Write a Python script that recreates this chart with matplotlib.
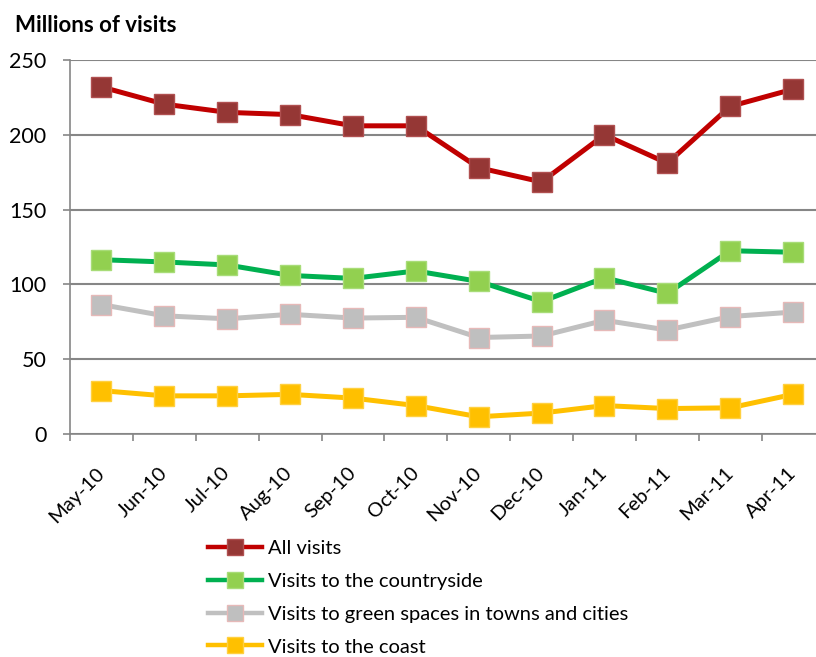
import matplotlib.pyplot as plt
from matplotlib.lines import Line2D

plt.rcParams['font.family'] = ['Lato', 'DejaVu Sans']

months = ['May-10', 'Jun-10', 'Jul-10', 'Aug-10', 'Sep-10', 'Oct-10',
          'Nov-10', 'Dec-10', 'Jan-11', 'Feb-11', 'Mar-11', 'Apr-11']
all_visits = [232, 220.5, 215, 213.5, 206, 206, 178, 168.5, 200, 181, 219, 230.5]
countryside = [116.5, 115, 113, 106, 104, 109, 102, 88.5, 104.5, 94, 122.5, 121.5]
green_spaces = [86.5, 79, 77, 80, 77.5, 78, 64.5, 65.5, 76, 69.5, 78.5, 81.5]
coast = [29, 25.5, 25.5, 26.5, 24, 19, 11.5, 14, 19, 17, 17.5, 26.5]

series = [
    ('All visits', all_visits, '#C00000', '#953735', '#B05050'),
    ('Visits to the countryside', countryside, '#00B050', '#92D050', '#A8DC78'),
    ('Visits to green spaces in towns and cities', green_spaces, '#C0C0C0', '#BFBFBF', '#E6B9B8'),
    ('Visits to the coast', coast, '#FFC000', '#FFC000', '#FFD040'),
]

fig = plt.figure(figsize=(8.16, 6.57), dpi=100)
ax = fig.add_axes([70 / 816, 223 / 657, 754.5 / 816, 374 / 657])

x = range(len(months))
handles = []
for name, vals, lc, fc, ec in series:
    ax.plot(x, vals, color=lc, lw=3.6, marker='s', ms=14, mfc=fc, mec=ec, mew=1,
            clip_on=False, zorder=3)
    handles.append(Line2D([], [], color=lc, lw=3.2, marker='s', ms=11, mfc=fc, mec=ec, mew=1))

ax.set_xlim(-0.5, 11.5)
ax.set_ylim(0, 250)
ax.set_yticks(range(0, 251, 50))
ax.tick_params(axis='y', labelsize=15.5, length=5, color='#868686', width=1.2, pad=12)
ax.set_xticks(list(x))
ax.set_xticklabels(months, rotation=45, ha='right', va='center',
                   rotation_mode='anchor', fontsize=14.5)
ax.tick_params(axis='x', which='major', length=0, pad=26)
ax.set_xticks([i - 0.5 for i in range(13)], minor=True)
ax.tick_params(axis='x', which='minor', length=5, color='#868686', width=1.2)
ax.grid(axis='y', color='#868686', lw=1.5)
ax.set_axisbelow(True)
for s in ['top', 'right']:
    ax.spines[s].set_visible(False)
for s in ['left', 'bottom']:
    ax.spines[s].set_color('#868686')
    ax.spines[s].set_linewidth(1.2)

fig.text(15 / 816, 1 - 25 / 657, 'Millions of visits', fontsize=16, fontweight='bold',
         va='center', ha='left')

fig.legend(handles=handles, labels=[s[0] for s in series],
           loc='upper left', bbox_to_anchor=(208 / 816, 1 - 540 / 657), frameon=False,
           fontsize=14.5, handlelength=2.7, handletextpad=0.3, labelspacing=0.78,
           borderpad=0, borderaxespad=0)

fig.savefig('out.png', dpi=100)
